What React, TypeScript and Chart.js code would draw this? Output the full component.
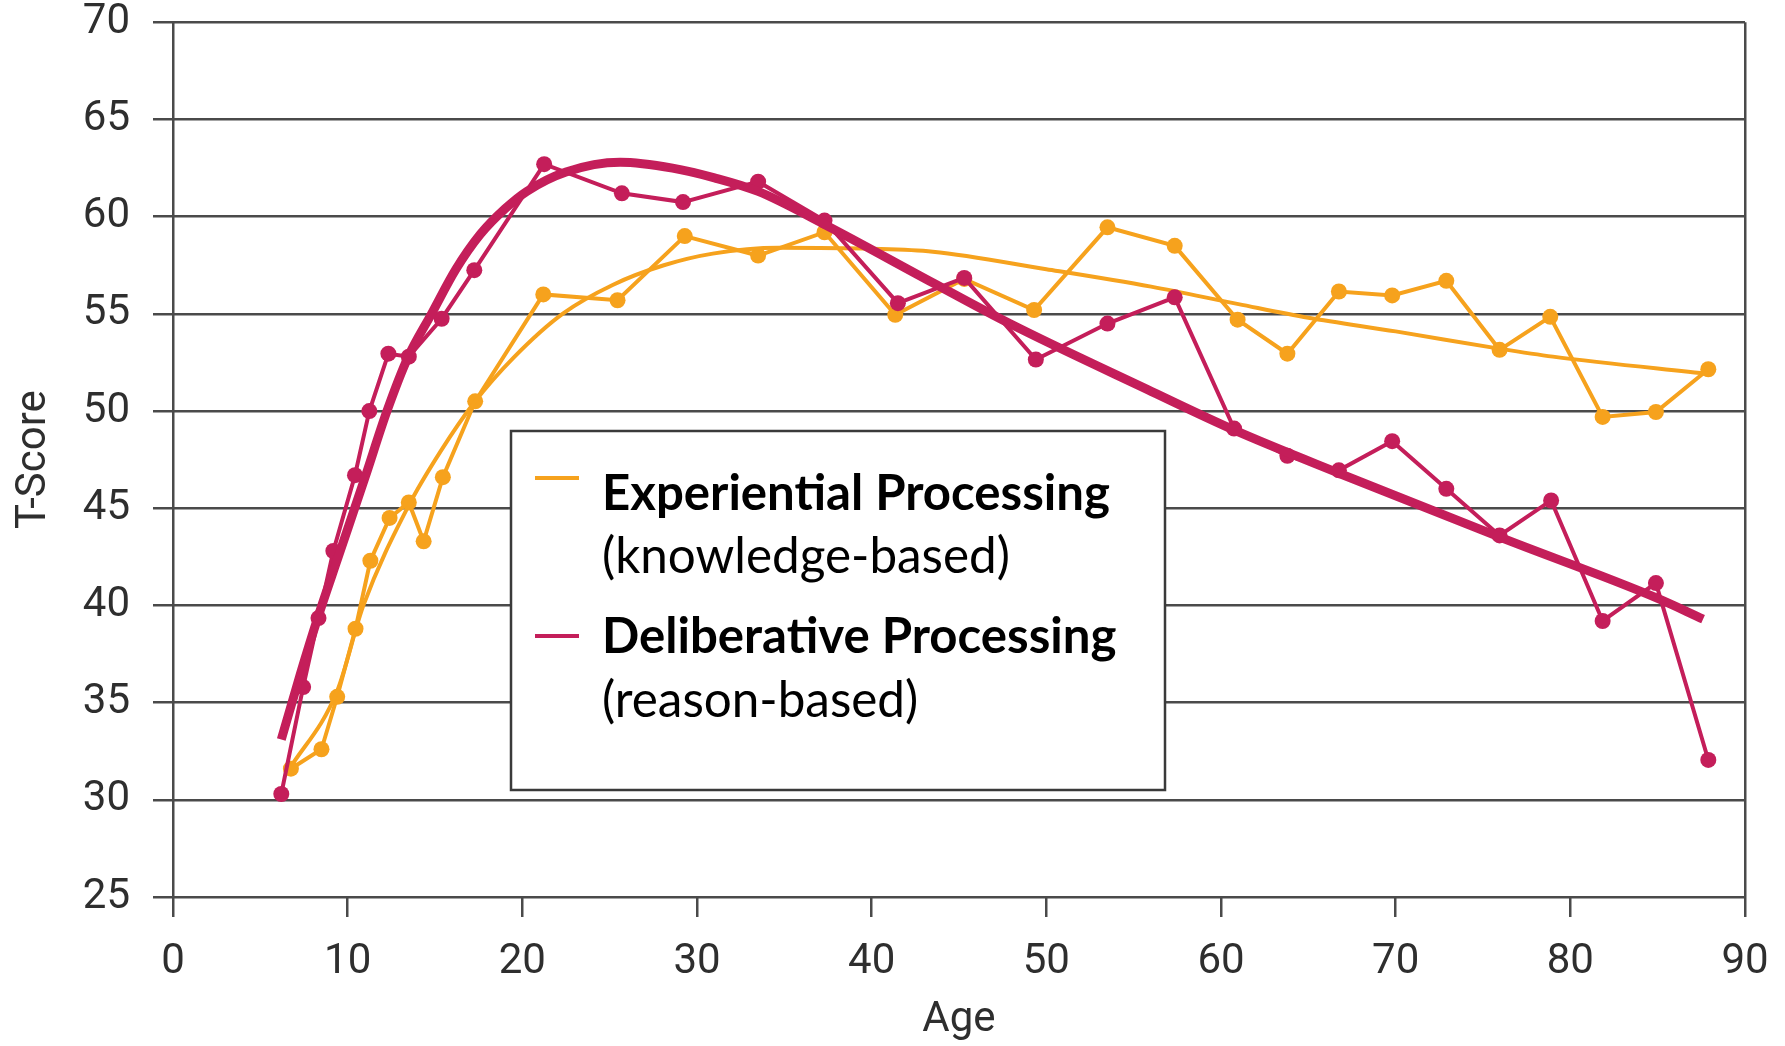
import React, { useEffect, useMemo, useRef } from "react";
import { Chart, registerables } from "chart.js";

Chart.register(...registerables);

// ---- Data ----
const xTickValues = [0, 10, 20, 30, 40, 50, 60, 70, 80, 90];
const yTickValues = [25, 30, 35, 40, 45, 50, 55, 60, 65, 70];

const expAges = [
  6.75, 8.5, 9.4, 10.45, 11.3, 12.4, 13.5, 14.35, 15.45, 17.3, 21.2, 25.45, 29.3, 33.5, 37.3,
  41.35, 45.3, 49.3, 53.5, 57.35, 60.95, 63.8, 66.75, 69.8, 72.9, 75.95, 78.85, 81.85, 84.9, 87.9,
];
const expScores = [
  31.6, 32.6, 35.3, 38.8, 42.3, 44.5, 45.3, 43.3, 46.6, 50.5, 56.0, 55.7, 59.0, 58.0, 59.2,
  54.95, 56.8, 55.2, 59.45, 58.5, 54.7, 52.95, 56.15, 55.95, 56.7, 53.15, 54.85, 49.7, 49.95, 52.15,
];

const delAges = [
  6.2, 7.45, 8.33, 9.18, 10.42, 11.24, 12.33, 13.5, 15.38, 17.25, 21.25, 25.7, 29.2, 33.5, 37.3,
  41.5, 45.3, 49.4, 53.5, 57.35, 60.75, 63.8, 66.75, 69.8, 72.9, 75.95, 78.9, 81.85, 84.9, 87.9,
];
const delScores = [
  30.3, 35.8, 39.35, 42.8, 46.7, 50.0, 52.95, 52.8, 54.75, 57.25, 62.7, 61.2, 60.75, 61.8, 59.8,
  55.55, 56.85, 52.65, 54.5, 55.85, 49.1, 47.7, 46.95, 48.45, 46.0, 43.6, 45.4, 39.2, 41.15, 32.05,
];

// smooth trend lines, sampled along the curves in the picture
const expFitAges = [6.6, 9.4, 10.9, 13.47, 15.3, 17.3, 19.5, 22.3, 25.2, 28.1, 30.9, 34.7, 40, 43.5, 50, 56, 61, 65, 70, 76, 79, 88];
const expFitScores = [31.5, 35.6, 40.0, 45.1, 47.9, 50.5, 52.75, 55.0, 56.5, 57.5, 58.1, 58.4, 58.35, 58.2, 57.3, 56.4, 55.5, 54.8, 54.1, 53.2, 52.8, 51.9];

const delFitAges = [6.2, 7.3, 8.3, 9.5, 11.0, 12.25, 13.47, 14.8, 16.2, 17.6, 19.0, 20.25, 22.5, 25.6, 28.6, 31.0, 33.5, 37.3, 43.5, 47.9, 55.8, 60.8, 66.75, 76.0, 84.9, 87.6];
const delFitScores = [33.1, 36.5, 39.4, 42.6, 46.6, 50.0, 52.8, 55.0, 57.3, 59.1, 60.4, 61.3, 62.3, 62.8, 62.5, 62.0, 61.3, 59.6, 56.6, 54.5, 51.1, 49.0, 46.8, 43.5, 40.4, 39.3];

const legendNames = ["Experiential Processing", "Deliberative Processing"];
const legendNotes = ["(knowledge-based)", "(reason-based)"];

// ---- Styles ----
const ORANGE = "#F6A21D";
const CRIMSON = "#C41E5A";
const GRID = "#4a4a4a";
const TEXT = "#2e2e2e";
const AXIS_FONT = "Roboto, 'Liberation Sans', Arial, sans-serif";
const LEGEND_FONT = "Lato, 'Open Sans', 'Noto Sans', sans-serif";

const W = 1785;
const H = 1046;

function toXY(xs: number[], ys: number[]) {
  return xs.map((x, i) => ({ x, y: ys[i] }));
}

function fitFont(text: string, weight: string, target: number) {
  const ctx = document.createElement("canvas").getContext("2d");
  if (!ctx) return 44;
  ctx.font = `${weight} 100px ${LEGEND_FONT}`;
  const w = ctx.measureText(text).width;
  return w > 0 ? (100 * target) / w : 44;
}

export default function App() {
  const ref = useRef<HTMLCanvasElement | null>(null);

  const boldSize = useMemo(() => fitFont(legendNames[0], "bold", 508), []);
  const noteSize = useMemo(() => fitFont(legendNotes[0], "normal", 408), []);

  useEffect(() => {
    if (!ref.current) return;
    const chart = new Chart(ref.current, {
      type: "line",
      data: {
        datasets: [
          {
            label: "Deliberative trend",
            data: toXY(delFitAges, delFitScores),
            borderColor: CRIMSON,
            backgroundColor: CRIMSON,
            borderWidth: 9,
            pointRadius: 0,
            cubicInterpolationMode: "monotone",
            fill: false,
          },
          {
            label: legendNames[1],
            data: toXY(delAges, delScores),
            borderColor: CRIMSON,
            backgroundColor: CRIMSON,
            borderWidth: 4,
            pointRadius: 8,
            pointBorderWidth: 0,
            tension: 0,
            fill: false,
          },
          {
            label: "Experiential trend",
            data: toXY(expFitAges, expFitScores),
            borderColor: ORANGE,
            backgroundColor: ORANGE,
            borderWidth: 4,
            pointRadius: 0,
            cubicInterpolationMode: "monotone",
            fill: false,
          },
          {
            label: legendNames[0],
            data: toXY(expAges, expScores),
            borderColor: ORANGE,
            backgroundColor: ORANGE,
            borderWidth: 4,
            pointRadius: 8,
            pointBorderWidth: 0,
            tension: 0,
            fill: false,
          },
        ],
      },
      options: {
        animation: false,
        responsive: false,
        maintainAspectRatio: false,
        layout: { padding: { left: 0, top: 22.3, right: 40, bottom: 0 } },
        plugins: {
          legend: { display: false },
          tooltip: { enabled: false },
          title: { display: false },
        },
        scales: {
          x: {
            type: "linear",
            min: 0,
            max: 90,
            afterBuildTicks: (s: any) => {
              s.ticks = xTickValues.map((v) => ({ value: v }));
            },
            afterFit: (s: any) => {
              s.height = 149;
              s.paddingLeft = 0;
              s.paddingRight = 0;
            },
            border: { display: false },
            grid: {
              drawOnChartArea: true,
              drawTicks: true,
              tickLength: 20,
              lineWidth: 2.5,
              color: (ctx: any) =>
                ctx.tick && (ctx.tick.value === 0 || ctx.tick.value === 90) ? GRID : "rgba(0,0,0,0)",
              tickColor: GRID,
            },
            ticks: {
              autoSkip: false,
              maxRotation: 0,
              padding: 20,
              color: TEXT,
              font: { family: AXIS_FONT, size: 42 },
            },
            title: {
              display: true,
              text: "Age",
              color: TEXT,
              font: { family: AXIS_FONT, size: 42 },
              padding: { top: 0, bottom: 0 },
            },
          },
          y: {
            type: "linear",
            min: 25,
            max: 70,
            afterBuildTicks: (s: any) => {
              s.ticks = yTickValues.map((v) => ({ value: v }));
            },
            afterFit: (s: any) => {
              s.width = 173;
              s.paddingTop = 0;
              s.paddingBottom = 0;
            },
            border: { display: false },
            grid: {
              drawOnChartArea: true,
              drawTicks: true,
              tickLength: 20,
              lineWidth: 2.5,
              color: GRID,
              tickColor: GRID,
            },
            ticks: {
              autoSkip: false,
              padding: 23,
              color: TEXT,
              font: { family: AXIS_FONT, size: 42 },
            },
            title: {
              display: true,
              text: "T-Score",
              color: TEXT,
              font: { family: AXIS_FONT, size: 42 },
              padding: { top: 9, bottom: 0 },
            },
          },
        },
      },
    });
    return () => chart.destroy();
  }, []);

  return (
    <div style={{ position: "absolute", left: 0, top: 0, width: W, height: H, background: "#fff", overflow: "hidden" }}>
      <canvas ref={ref} width={W} height={H} style={{ position: "absolute", left: 0, top: 0, width: W, height: H }} />
      <svg
        width={W}
        height={H}
        style={{ position: "absolute", left: 0, top: 0, pointerEvents: "none" }}
        xmlns="http://www.w3.org/2000/svg"
      >
        <rect x={511} y={431} width={654} height={359} fill="#ffffff" stroke="#3a3a3a" strokeWidth={2.5} />
        <line x1={535} x2={579} y1={478} y2={478} stroke={ORANGE} strokeWidth={4} />
        <line x1={535} x2={579} y1={636} y2={636} stroke={CRIMSON} strokeWidth={4} />
        <text x={602} y={510} fontFamily={LEGEND_FONT} fontWeight="bold" fontSize={boldSize} fill="#000">
          {legendNames[0]}
        </text>
        <text x={602} y={573} fontFamily={LEGEND_FONT} fontWeight="normal" fontSize={noteSize} fill="#000">
          {legendNotes[0]}
        </text>
        <text x={602} y={653} fontFamily={LEGEND_FONT} fontWeight="bold" fontSize={boldSize} fill="#000">
          {legendNames[1]}
        </text>
        <text x={602} y={717} fontFamily={LEGEND_FONT} fontWeight="normal" fontSize={noteSize} fill="#000">
          {legendNotes[1]}
        </text>
      </svg>
    </div>
  );
}
